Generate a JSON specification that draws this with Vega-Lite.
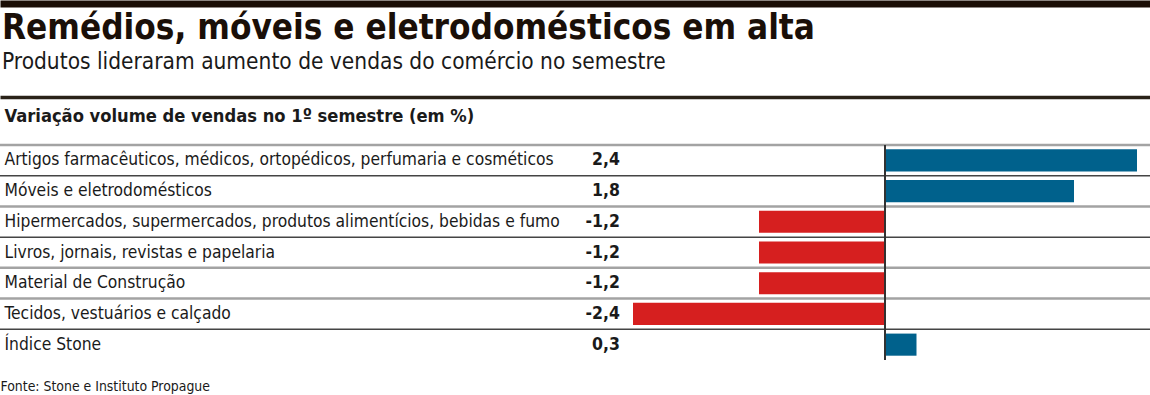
{
  "$schema": "https://vega.github.io/schema/vega-lite/v6.json",
  "width": 1150,
  "height": 215,
  "autosize": {"type": "none"},
  "padding": {"left": 0, "top": 145, "right": 0, "bottom": 35},
  "background": "white",
  "config": {
    "view": {"stroke": null},
    "locale": {"number": {"decimal": ",", "thousands": ".", "grouping": [3], "currency": ["R$", ""], "minus": "-"}}
  },
  "title": {
    "text": "Remédios, móveis e eletrodomésticos em alta",
    "subtitle": "Produtos lideraram aumento de vendas do comércio no semestre",
    "anchor": "start",
    "frame": "group",
    "offset": -71,
    "dx": 2,
    "font": "DejaVu Sans Condensed",
    "fontSize": 34.8,
    "fontWeight": "bold",
    "color": "#1a0f08",
    "subtitleFont": "DejaVu Sans Condensed",
    "subtitleFontSize": 22.5,
    "subtitleColor": "#1a1a1a",
    "subtitlePadding": 4
  },
  "data": {
    "values": [
      {"cat": "Artigos farmacêuticos, médicos, ortopédicos, perfumaria e cosméticos", "v": 2.4},
      {"cat": "Móveis e eletrodomésticos", "v": 1.8},
      {"cat": "Hipermercados, supermercados, produtos alimentícios, bebidas e fumo", "v": -1.2},
      {"cat": "Livros, jornais, revistas e papelaria", "v": -1.2},
      {"cat": "Material de Construção", "v": -1.2},
      {"cat": "Tecidos, vestuários e calçado", "v": -2.4},
      {"cat": "Índice Stone", "v": 0.3}
    ]
  },
  "layer": [
    {
      "mark": {"type": "rule"},
      "encoding": {
        "y": {
          "field": "cat", "type": "nominal", "sort": null, "bandPosition": 0,
          "scale": {"paddingInner": 0, "paddingOuter": 0},
          "axis": {
            "orient": "left", "domain": false, "ticks": false, "tickSize": 0, "grid": false,
            "labelAlign": "left", "labelPadding": -4, "labelLimit": 0, "labelBaseline": "middle",
            "labelFont": "DejaVu Sans Condensed", "labelFontSize": 17.3, "labelColor": "#1a1a1a",
            "title": "Variação volume de vendas no 1º semestre (em %)",
            "titleAngle": 0, "titleAlign": "left", "titleBaseline": "alphabetic",
            "titleX": 4, "titleY": -24,
            "titleFont": "DejaVu Sans Condensed", "titleFontSize": 18.2, "titleFontWeight": "bold", "titleColor": "#1a1a1a"
          }
        },
        "color": {
          "condition": {"test": "indexof(['Móveis e eletrodomésticos','Livros, jornais, revistas e papelaria','Índice Stone'], datum.cat) >= 0", "value": "#444444"},
          "value": "#a3a3a3"
        },
        "strokeWidth": {
          "condition": {"test": "indexof(['Móveis e eletrodomésticos','Livros, jornais, revistas e papelaria','Índice Stone'], datum.cat) >= 0", "value": 1.5},
          "value": 2.5
        }
      }
    },
    {
      "mark": {"type": "bar", "height": {"band": 0.72}},
      "encoding": {
        "y": {"field": "cat", "type": "nominal", "sort": null},
        "x": {
          "field": "v", "type": "quantitative",
          "scale": {"domain": [-8.4286, 2.5238], "nice": false, "zero": false},
          "axis": {"orient": "top", "offset": 141.5, "domainWidth": 7, "domainColor": "#1a0e05", "ticks": false, "labels": false, "grid": false, "title": null}
        },
        "x2": {"datum": 0},
        "color": {
          "condition": {"test": "datum.v > 0", "value": "#00618c"},
          "value": "#d61f1f"
        }
      }
    },
    {
      "mark": {"type": "rule", "color": "#333333", "strokeWidth": 1.2},
      "encoding": {
        "x": {
          "datum": 0, "type": "quantitative",
          "axis": {"orient": "top", "offset": 48, "domainWidth": 3.5, "domainColor": "#2a2218", "ticks": false, "labels": false, "grid": false, "title": null}
        }
      }
    },
    {
      "mark": {"type": "text", "align": "right", "baseline": "middle", "dx": -13, "font": "DejaVu Sans Condensed", "fontSize": 17.5, "fontWeight": "bold", "color": "#1a1a1a"},
      "encoding": {
        "y": {"field": "cat", "type": "nominal", "sort": null},
        "x": {
          "datum": -2.4, "type": "quantitative",
          "axis": {"orient": "bottom", "domain": false, "ticks": false, "labels": false, "grid": false,
            "title": "Fonte: Stone e Instituto Propague", "titleAnchor": "start", "titleAlign": "left",
            "titleBaseline": "alphabetic", "titleX": 0, "titleY": 30,
            "titleFont": "DejaVu Sans Condensed", "titleFontSize": 13.9, "titleFontWeight": "normal", "titleColor": "#1a1a1a"}
        },
        "text": {"field": "v", "type": "quantitative", "format": ".1f"}
      }
    }
  ],
  "resolve": {"scale": {"x": "shared"}, "axis": {"x": "independent"}}
}
